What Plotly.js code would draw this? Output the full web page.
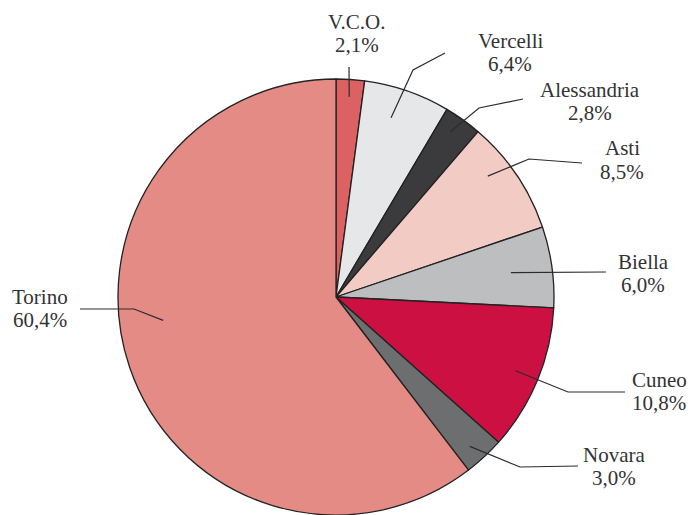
<!DOCTYPE html>
<html>
<head>
<meta charset="utf-8">
<script src="https://cdn.plot.ly/plotly-3.0.1.min.js"></script>
<style>html,body{margin:0;padding:0;background:#fff;}#chart{width:691px;height:515px;}</style>
</head>
<body>
<div id="chart"></div>
<script>
// Data
const provinces = ["V.C.O.", "Vercelli", "Alessandria", "Asti", "Biella", "Cuneo", "Novara", "Torino"];
const shares = [2.1, 6.4, 2.8, 8.5, 6.0, 10.8, 3.0, 60.4];
const shareLabels = ["2,1%", "6,4%", "2,8%", "8,5%", "6,0%", "10,8%", "3,0%", "60,4%"];

// Styles
const colors = ["#db6162", "#e6e7e9", "#3b3b3d", "#f3cbc5", "#bdbec0", "#cc1142", "#6d6e70", "#e48b86"];

const W = 691, H = 515;
const cx = 336, cy = 297, R = 218;
// leader line layout: radial fraction f and angular offset da (deg) of the start,
// elbow/end pixel points, label centre
const leader = [
  {f: 0.92, da: 0,    pts: [[349, 67]], lab: [357, 33]},
  {f: 0.86, da: -2,   pts: [[413, 70], [445, 53]], lab: [510, 52]},
  {f: 0.92, da: -1,   pts: [[479, 108], [523, 99]], lab: [590, 101]},
  {f: 0.89, da: -4.5, pts: [[529, 159], [582, 163]], lab: [622, 160]},
  {f: 0.81, da: 0,    pts: [[606, 272]], lab: [643, 273]},
  {f: 0.89, da: 0,    pts: [[568, 392], [625, 392]], lab: [659, 391]},
  {f: 0.92, da: 1,    pts: [[520, 467], [578, 466]], lab: [614, 466]},
  {f: 0.80, da: 11,   pts: [[134, 309], [80, 309]], lab: [40, 308]}
];
const lineGap = 11.5;

const px = x => x / W;
const py = y => 1 - y / H;
const font = {family: 'Liberation Serif, DejaVu Serif, serif', size: 21, color: '#333333'};

const total = shares.reduce((a, b) => a + b, 0);
const shapes = [];
const annotations = [];
let cum = 0;
shares.forEach((v, i) => {
  const L = leader[i];
  const mid = (cum + v / 2) / total * 2 * Math.PI + L.da * Math.PI / 180;
  cum += v;
  const sx = cx + Math.sin(mid) * R * L.f;
  const sy = cy - Math.cos(mid) * R * L.f;
  let path = `M ${px(sx)} ${py(sy)}`;
  L.pts.forEach(p => { path += ` L ${px(p[0])} ${py(p[1])}`; });
  shapes.push({type: 'path', xref: 'paper', yref: 'paper', path: path,
    line: {color: '#2b2b2b', width: 1.2}});
  [provinces[i], shareLabels[i]].forEach((t, k) => {
    annotations.push({xref: 'paper', yref: 'paper', x: px(L.lab[0]),
      y: py(L.lab[1] + (k === 0 ? -lineGap : lineGap)),
      xanchor: 'center', yanchor: 'middle', align: 'center', showarrow: false,
      text: t, font: font});
  });
});

const trace = {
  type: 'pie',
  values: shares,
  labels: provinces,
  sort: false,
  direction: 'clockwise',
  rotation: 0,
  textinfo: 'none',
  hoverinfo: 'none',
  showlegend: false,
  marker: {colors: colors, line: {color: '#222222', width: 1.3}},
  domain: {x: [(cx - R) / W, (cx + R) / W], y: [(H - (cy + R)) / H, (H - (cy - R)) / H]}
};

Plotly.newPlot('chart', [trace], {
  width: W, height: H,
  margin: {l: 0, r: 0, t: 0, b: 0},
  paper_bgcolor: '#ffffff',
  showlegend: false,
  shapes: shapes,
  annotations: annotations
}, {staticPlot: true});
</script>
</body>
</html>
